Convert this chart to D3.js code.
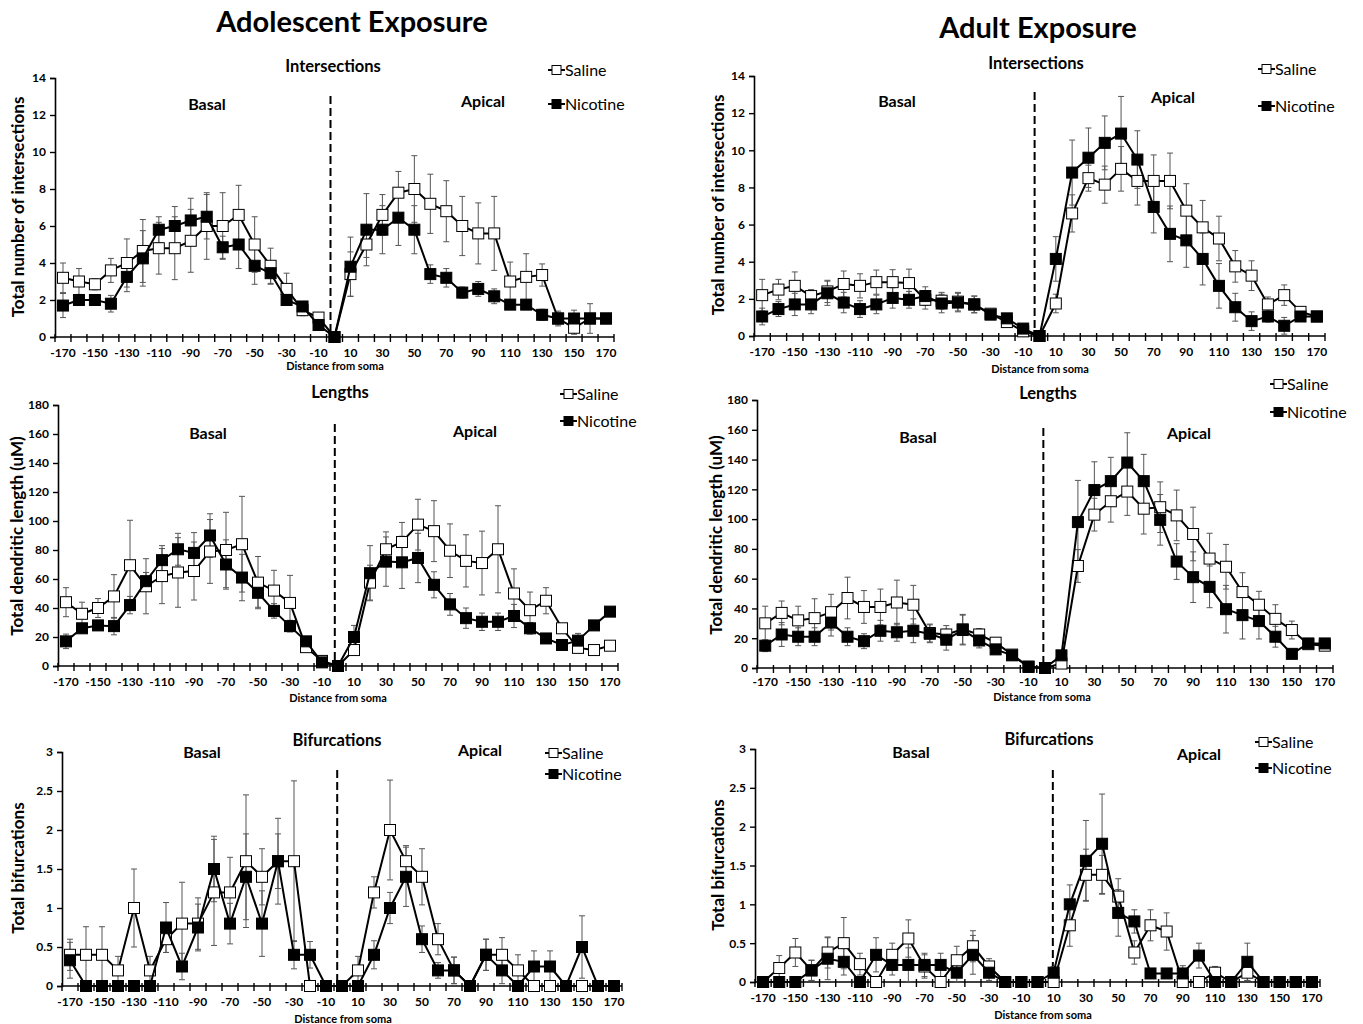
<!DOCTYPE html>
<html>
<head>
<meta charset="utf-8">
<script src="https://cdn.jsdelivr.net/npm/d3@7"></script>
<style>
body { margin: 0; background: #fff; }
text { font-family: Lato, "Open Sans", sans-serif; fill: #000; }
</style>
</head>
<body>
<svg id="chart" width="1363" height="1024"></svg>
<script>
// distance from soma (um), one category every 10
var distance = [-170,-160,-150,-140,-130,-120,-110,-100,-90,-80,-70,-60,-50,-40,-30,-20,-10,0,
                10,20,30,40,50,60,70,80,90,100,110,120,130,140,150,160,170];
var xTickLabels = [-170,-150,-130,-110,-90,-70,-50,-30,-10,10,30,50,70,90,110,130,150,170];

// ---- Intersections, adolescent
var intAdoSaline = [3.2,3.0,2.85,3.6,4.0,4.65,4.8,4.8,5.2,6.0,6.0,6.6,5.0,3.85,2.6,1.45,1.05,0,
                    3.4,5.0,6.6,7.8,8.0,7.2,6.8,6.0,5.6,5.6,3.0,3.25,3.35,1.0,0.5,1.0,1.0];
var intAdoSalineErr = [0.8,0.7,0.3,0.65,1.3,1.7,1.4,1.7,1.7,1.8,1.8,1.6,1.5,0.95,0.85,0.3,0.15,0,
                       1.2,0.7,1.1,1.15,1.8,1.6,1.65,1.6,1.65,2.0,1.05,1.25,0.6,0.4,0.35,0.8,0];
var intAdoNicotine = [1.7,2.0,2.0,1.8,3.25,4.25,5.8,6.0,6.3,6.5,4.85,5.0,3.85,3.45,2.0,1.65,0.65,0,
                      3.8,5.8,5.8,6.45,5.8,3.4,3.2,2.4,2.6,2.2,1.75,1.75,1.2,1.0,1.0,1.0,1.0];
var intAdoNicotineErr = [0.65,0.3,0.15,0.45,0.8,1.5,0.7,1.05,1.2,1.2,0.6,1.3,1.0,0.6,0.2,0.15,0.1,0,
                         1.6,1.95,1.3,1.5,1.3,0.5,0.5,0.3,0.4,0.4,0.25,0.2,0.3,0.3,0.45,0.2,0];

// ---- Intersections, adult
var intAdSaline = [2.2,2.5,2.7,2.15,2.4,2.8,2.7,2.9,2.9,2.85,1.95,1.9,1.85,1.7,1.2,0.75,0.25,0,
                   1.75,6.6,8.5,8.15,9.0,8.35,8.35,8.35,6.75,5.85,5.25,3.75,3.25,1.7,2.2,1.3,1.05];
var intAdSalineErr = [0.85,0.55,0.75,0.35,0.6,0.7,0.65,0.65,0.67,0.75,0.5,0.45,0.5,0.45,0.15,0.1,0.1,0,
                      0.5,1.0,0.7,1.0,1.2,1.3,1.4,1.5,1.45,1.45,1.2,0.85,0.8,0.4,0.55,0.2,0];
var intAdNicotine = [1.05,1.45,1.7,1.7,2.3,1.8,1.45,1.7,2.05,1.95,2.15,1.75,1.8,1.7,1.15,0.95,0.4,0,
                     4.15,8.8,9.6,10.4,10.9,9.5,6.95,5.5,5.15,4.15,2.7,1.55,0.8,1.05,0.55,1.05,1.05];
var intAdNicotineErr = [0.45,0.4,0.6,0.5,0.65,0.55,0.45,0.5,0.55,0.45,0.5,0.5,0.5,0.45,0.15,0.1,0.1,0,
                        1.2,1.75,1.6,1.45,2.0,1.55,1.4,1.5,1.45,1.4,1.2,0.75,0.5,0.3,0.45,0.2,0];

// ---- Lengths, adolescent
var lenAdoSaline = [44,36,40,48,69.5,55,62,64.5,65.5,79,80,84,57.5,52,43.5,13,3.5,0,
                    11,57.5,80.5,85.5,97.5,93,79.5,72.5,71,80.5,50,38.5,45,26,12.5,11,14];
var lenAdoSalineErr = [10,8,6.5,15,31,19,19,24,20,22,26,33,18,14,19,3,1,0,
                       3,12,12,13.5,17.5,21,18.5,18,22,30,17,12.5,9,3,2,0,0];
var lenAdoNicotine = [17,26,28,27.5,42,58.5,73,80.5,78,90,70,61,50.5,38,27.5,17,2.5,0,
                      20,64,72,71.5,74.5,56,42.5,33,30.5,30.5,34.5,26,19,14.5,17.5,28,37.5];
var lenAdoNicotineErr = [5,3,3,6,6,6,10,11,14,15,17,16,10,5,4,3,1,0,
                         8,19,17,18,17,9,7.5,7,6,6,8,4,3,3,5,0,0];

// ---- Lengths, adult
var lenAdSaline = [30,37,32,33.5,37.5,47,41,41,44,42.5,23.5,22.5,26,22.5,17,9,1,0,
                   3,68.5,103,112,118.5,107,108,102.5,90,73.5,68,51,42.5,33,25.5,16,15];
var lenAdSalineErr = [11.5,8,9.5,13,12,14,11,12,15,13,6,6,10,4,2,1,0.5,0,
                      2,11,11,14,16,17,17,17,18,17,15,13,9,9.5,6,2,0];
var lenAdNicotine = [15,22.5,21,21,30.5,21,18,25,24,25,23,19,25.5,18.5,12.5,8.5,0.7,0,
                     8.5,98,119.5,125.5,138,125.5,99.5,71.5,61,54.5,39.5,35.5,31.5,21,9.5,16.5,16.5];
var lenAdNicotineErr = [4,8,6,6,9,6,5,7,6,8,6,7,10,5,2,1,0.5,0,
                        2,28,19,16,20,18,17,12,17,14,16,16,12,7,3,2,0];

// ---- Bifurcations, adolescent
var bifAdoSaline = [0.4,0.4,0.4,0.2,1.0,0.2,0.6,0.8,0.8,1.2,1.2,1.6,1.4,1.6,1.6,0,0,0,
                    0.2,1.2,2.0,1.6,1.4,0.6,0.2,0,0.4,0.4,0.2,0,0,0,0,0,0];
var bifAdoSalineErr = [0.2,0.36,0.36,0.18,0.5,0.18,0.17,0.53,0.33,0.68,0.45,0.85,0.36,0.55,1.03,0,0,0,
                       0.18,0.2,0.64,0.2,0.36,0.2,0.17,0,0.2,0.22,0.2,0,0,0,0,0,0];
var bifAdoNicotine = [0.33,0,0,0,0,0,0.75,0.25,0.75,1.5,0.8,1.4,0.8,1.6,0.4,0.4,0,0,
                      0,0.4,1.0,1.4,0.6,0.2,0.2,0,0.4,0.2,0,0.25,0.25,0,0.5,0,0];
var bifAdoNicotineErr = [0.23,0,0,0,0,0,0.32,0.17,0.3,0.42,0.26,0.55,0.42,0.35,0.18,0.17,0,0,
                         0,0.18,0.2,0.38,0.17,0.1,0.17,0,0.2,0.17,0,0.2,0.2,0,0.4,0,0];

// ---- Bifurcations, adult
var bifAdSaline = [0,0.18,0.38,0.15,0.38,0.5,0.23,0,0.35,0.56,0.2,0,0.28,0.46,0.2,0,0,0,
                   0,0.73,1.38,1.38,1.1,0.38,0.73,0.65,0,0,0.12,0,0.12,0,0,0,0];
var bifAdSalineErr = [0,0.16,0.18,0.13,0.2,0.33,0.14,0,0.15,0.24,0.15,0,0.18,0.2,0.1,0,0,0,
                      0,0.27,0.33,0.25,0.23,0.15,0.2,0.24,0,0,0.08,0,0.1,0,0,0,0];
var bifAdNicotine = [0,0,0,0.15,0.3,0.26,0,0.35,0.22,0.22,0.22,0.22,0.12,0.35,0.12,0,0,0,
                     0.12,1.0,1.56,1.78,0.89,0.78,0.11,0.11,0.11,0.34,0,0,0.26,0,0,0,0];
var bifAdNicotineErr = [0,0,0,0.13,0.27,0.17,0,0.22,0.13,0.22,0.15,0.15,0.12,0.25,0.1,0,0,0,
                        0.08,0.25,0.52,0.64,0.3,0.15,0.06,0,0.1,0.16,0,0,0.24,0,0,0,0];

var svg = d3.select("#chart");

// big headers
svg.append("text").attr("x", 352).attr("y", 32).attr("text-anchor", "middle")
  .style("font-size", "29px").style("font-weight", "bold").text("Adolescent Exposure");
svg.append("text").attr("x", 1038).attr("y", 38).attr("text-anchor", "middle")
  .style("font-size", "29px").style("font-weight", "bold").text("Adult Exposure");

var panels = [
  {title: "Intersections", ylab: "Total number of intersections", ymax: 14, ystep: 2,
   sal: intAdoSaline, salErr: intAdoSalineErr, nic: intAdoNicotine, nicErr: intAdoNicotineErr,
   l: 55, r: 614, t: 78, b: 337, tx: 333, ty: 72, basal: [207, 110], apical: [483, 107],
   leg: [548, 70, 104], xl: [335, 370], xty: 20, yl: [18, 207], dash: -2.5, dashTop: 96},
  {title: "Intersections", ylab: "Total number of intersections", ymax: 14, ystep: 2,
   sal: intAdSaline, salErr: intAdSalineErr, nic: intAdNicotine, nicErr: intAdNicotineErr,
   l: 754, r: 1325, t: 76, b: 336, tx: 1036, ty: 69, basal: [897, 107], apical: [1173, 103],
   leg: [1258, 69, 106], xl: [1040, 373], xty: 20, yl: [718, 205], dash: -3, dashTop: 92},
  {title: "Lengths", ylab: "Total dendritic length (uM)", ymax: 180, ystep: 20,
   sal: lenAdoSaline, salErr: lenAdoSalineErr, nic: lenAdoNicotine, nicErr: lenAdoNicotineErr,
   l: 58, r: 618, t: 405, b: 666, tx: 340, ty: 398, basal: [208, 439], apical: [475, 437],
   leg: [560, 394, 421], xl: [338, 702], xty: 20, yl: [17, 536], dash: -2, dashTop: 424},
  {title: "Lengths", ylab: "Total dendritic length (uM)", ymax: 180, ystep: 20,
   sal: lenAdSaline, salErr: lenAdSalineErr, nic: lenAdNicotine, nicErr: lenAdNicotineErr,
   l: 757, r: 1333, t: 400, b: 668, tx: 1048, ty: 399, basal: [918, 443], apical: [1189, 439],
   leg: [1270, 384, 412], xl: [1042, 701], xty: 18, yl: [716, 535], dash: -1, dashTop: 428},
  {title: "Bifurcations", ylab: "Total bifurcations", ymax: 3, ystep: 0.5,
   sal: bifAdoSaline, salErr: bifAdoSalineErr, nic: bifAdoNicotine, nicErr: bifAdoNicotineErr,
   l: 62, r: 622, t: 752, b: 986, tx: 337, ty: 746, basal: [202, 758], apical: [480, 756],
   leg: [545, 753, 774], xl: [343, 1023], xty: 20, yl: [18, 868], dash: -3, dashTop: 770},
  {title: "Bifurcations", ylab: "Total bifurcations", ymax: 3, ystep: 0.5,
   sal: bifAdSaline, salErr: bifAdSalineErr, nic: bifAdNicotine, nicErr: bifAdNicotineErr,
   l: 755, r: 1320, t: 749, b: 982, tx: 1049, ty: 745, basal: [911, 758], apical: [1199, 760],
   leg: [1255, 742, 768], xl: [1043, 1019], xty: 20, yl: [718, 865], dash: 9.5, dashTop: 770}
];

var M = 11; // marker size

panels.forEach(function(p) {
  var g = svg.append("g");
  var x = d3.scaleLinear().domain([-175, 175]).range([p.l, p.r]);
  var y = d3.scaleLinear().domain([0, p.ymax]).range([p.b, p.t]);

  // y axis
  var yAxis = d3.axisLeft(y).tickValues(d3.range(0, p.ymax + p.ystep / 2, p.ystep))
    .tickSize(5).tickFormat(d3.format("~g"));
  var ya = g.append("g").attr("transform", "translate(" + p.l + ",0)").call(yAxis);
  ya.select(".domain").attr("stroke", "#000").attr("stroke-width", 1.6);
  ya.selectAll(".tick line").attr("stroke", "#000").attr("stroke-width", 1.4);
  ya.selectAll(".tick text").attr("x", -9).style("font-size", "12px").style("font-weight", "bold")
    .style("font-family", "Lato, sans-serif");

  // x axis: ticks between categories, labels on odd tens
  var xa = g.append("g").attr("transform", "translate(0," + p.b + ")");
  xa.append("line").attr("x1", p.l).attr("x2", p.r).attr("stroke", "#000").attr("stroke-width", 1.6);
  xa.selectAll(".xt").data(d3.range(-175, 176, 10)).enter().append("line")
    .attr("x1", function(d) { return x(d); }).attr("x2", function(d) { return x(d); })
    .attr("y1", -3).attr("y2", 5).attr("stroke", "#000").attr("stroke-width", 1.4);
  xa.selectAll(".xl").data(xTickLabels).enter().append("text")
    .attr("x", function(d) { return x(d); }).attr("y", p.xty).attr("text-anchor", "middle")
    .style("font-size", "12px").style("font-weight", "bold").text(function(d) { return d; });

  // dashed soma line
  g.append("line").attr("x1", x(p.dash)).attr("x2", x(p.dash))
    .attr("y1", p.dashTop).attr("y2", p.b).attr("stroke", "#000")
    .attr("stroke-width", 2).attr("stroke-dasharray", "8,4");

  // error bars
  [[p.sal, p.salErr], [p.nic, p.nicErr]].forEach(function(s) {
    var pts = distance.map(function(d, i) { return {d: d, v: s[0][i], e: s[1][i]}; })
      .filter(function(o) { return o.e > 0; });
    var eb = g.append("g").attr("stroke", "#555").attr("stroke-width", 1);
    eb.selectAll("line.v").data(pts).enter().append("line")
      .attr("x1", function(o) { return x(o.d); }).attr("x2", function(o) { return x(o.d); })
      .attr("y1", function(o) { return y(o.v + o.e); }).attr("y2", function(o) { return y(Math.max(0, o.v - o.e)); });
    eb.selectAll("line.t").data(pts).enter().append("line")
      .attr("x1", function(o) { return x(o.d) - 3; }).attr("x2", function(o) { return x(o.d) + 3; })
      .attr("y1", function(o) { return y(o.v + o.e); }).attr("y2", function(o) { return y(o.v + o.e); });
    eb.selectAll("line.b").data(pts).enter().append("line")
      .attr("x1", function(o) { return x(o.d) - 3; }).attr("x2", function(o) { return x(o.d) + 3; })
      .attr("y1", function(o) { return y(Math.max(0, o.v - o.e)); }).attr("y2", function(o) { return y(Math.max(0, o.v - o.e)); });
  });

  // lines + markers, saline first then nicotine on top
  var line = d3.line().x(function(d, i) { return x(distance[i]); }).y(function(d) { return y(d); });
  [[p.sal, "#fff"], [p.nic, "#000"]].forEach(function(s) {
    g.append("path").datum(s[0]).attr("d", line).attr("fill", "none")
      .attr("stroke", "#000").attr("stroke-width", 2);
    g.selectAll(null).data(s[0]).enter().append("rect")
      .attr("x", function(d, i) { return x(distance[i]) - M / 2; })
      .attr("y", function(d) { return y(d) - M / 2; })
      .attr("width", M).attr("height", M)
      .attr("fill", s[1]).attr("stroke", "#000").attr("stroke-width", 1);
  });

  // titles
  g.append("text").attr("x", p.tx).attr("y", p.ty).attr("text-anchor", "middle")
    .style("font-size", "16.5px").style("font-weight", "bold").text(p.title);
  g.append("text").attr("x", p.basal[0]).attr("y", p.basal[1]).attr("text-anchor", "middle")
    .style("font-size", "16px").style("font-weight", "bold").text("Basal");
  g.append("text").attr("x", p.apical[0]).attr("y", p.apical[1]).attr("text-anchor", "middle")
    .style("font-size", "16px").style("font-weight", "bold").text("Apical");
  g.append("text").attr("x", p.xl[0]).attr("y", p.xl[1]).attr("text-anchor", "middle")
    .style("font-size", "11px").style("font-weight", "bold").text("Distance from soma");
  g.append("text").attr("transform", "translate(" + p.yl[0] + "," + p.yl[1] + ") rotate(-90)")
    .attr("text-anchor", "middle").attr("dy", "0.35em")
    .style("font-size", "17px").style("font-weight", "bold").text(p.ylab);

  // legend
  [["Saline", "#fff", p.leg[1]], ["Nicotine", "#000", p.leg[2]]].forEach(function(s) {
    var lg = g.append("g").attr("transform", "translate(" + p.leg[0] + "," + s[2] + ")");
    lg.append("line").attr("x1", 0).attr("x2", 17).attr("stroke", "#000").attr("stroke-width", 2);
    lg.append("rect").attr("x", 4).attr("y", -4.5).attr("width", 9).attr("height", 9)
      .attr("fill", s[1]).attr("stroke", "#000");
    lg.append("text").attr("x", 17).attr("dy", "0.35em").style("font-size", "16px").text(s[0]);
  });
});
</script>
</body>
</html>
